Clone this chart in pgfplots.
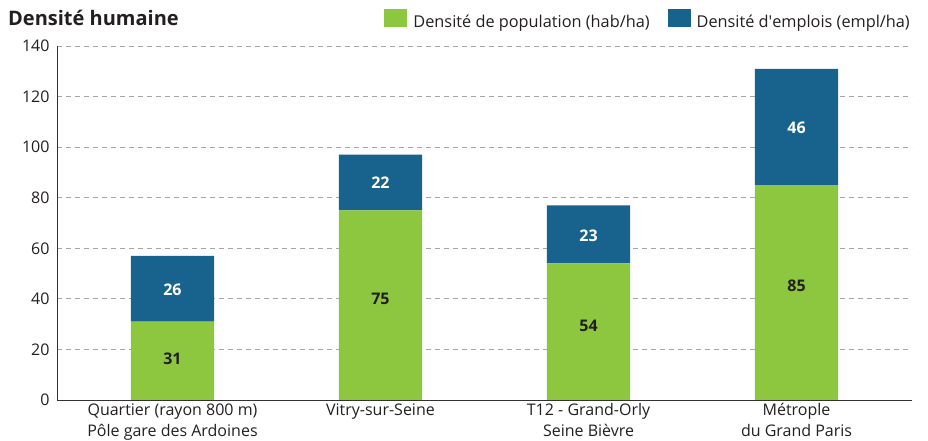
\documentclass[border=0pt]{standalone}
\usepackage{pgfplots}
\pgfplotsset{compat=1.18}
\usepackage{fontspec}
\setmainfont{Open Sans}
\definecolor{cgreen}{RGB}{141,198,63}
\definecolor{cblue}{RGB}{24,99,142}
\definecolor{gridc}{RGB}{165,165,165}
\definecolor{axc}{RGB}{50,50,50}
\definecolor{txt}{RGB}{35,31,32}
\pgfplotsset{common/.style={
  at={(57pt,41pt)}, anchor=south west,
  scale only axis, width=855pt, height=354pt,
  xmin=-0.555, xmax=3.555, ymin=0, ymax=140,
  /pgf/number format/assume math mode=true,
  clip=false}}
\begin{document}
\begin{tikzpicture}
\useasboundingbox (0,0) rectangle (928pt,441pt);
\node[anchor=west, font=\fontsize{20}{24}\selectfont\bfseries, text=txt, inner sep=0pt] at (8pt,423pt) {Densité humaine};
\begin{axis}[
  common,
  ybar stacked, bar width=0.4,
  axis x line*=bottom, axis y line*=left,
  axis line style={-, axc, line width=0.9pt},
  major tick length=0pt,
  ytick={0,20,...,140},
  ymajorgrids,
  grid style={gridc, dash pattern=on 5pt off 4pt, line width=0.8pt},
  xtick={0,1,2,3},
  xticklabels={{Quartier (rayon 800 m)\\Pôle gare des Ardoines},{Vitry-sur-Seine},{T12 - Grand-Orly\\Seine Bièvre},{Métrople\\du Grand Paris}},
  xticklabel style={align=center, font=\fontsize{16}{21}\selectfont, text=txt, yshift=0pt},
  yticklabel style={font=\fontsize{16}{18}\selectfont, text=txt, xshift=-4pt},
  legend columns=2,
  legend style={at={(rel axis cs:1,1)}, anchor=south east, yshift=15pt, draw=none, fill=none,
     font=\fontsize{16.3}{18}\selectfont, text=txt, inner sep=0pt,
     /tikz/every even column/.append style={column sep=16pt},
     /tikz/every odd column/.append style={column sep=4pt}},
  legend image code/.code={\fill[#1,draw=none] (0pt,-5pt) rectangle (23pt,13pt);},
]
\addplot[fill=cgreen, draw=none] coordinates {(0,31) (1,75) (2,54) (3,85)};
\addplot[fill=cblue, draw=none] coordinates {(0,26) (1,22) (2,23) (3,46)};
\legend{Densité de population (hab/ha), Densité d\textquotesingle emplois (empl/ha)}
\end{axis}
\begin{axis}[common, hide axis]
\addplot[only marks, mark=none, point meta=explicit symbolic, nodes near coords,
  every node near coord/.append style={anchor=center, text=txt, font=\fontsize{16}{18}\selectfont\bfseries}]
  coordinates {(0,16.2) [31] (1,39.9) [75] (2,29.2) [54] (3,45.1) [85]};
\addplot[only marks, mark=none, point meta=explicit symbolic, nodes near coords,
  every node near coord/.append style={anchor=center, text=white, font=\fontsize{16}{18}\selectfont\bfseries}]
  coordinates {(0,43.5) [26] (1,85.8) [22] (2,64.8) [23] (3,107.5) [46]};
\end{axis}
\end{tikzpicture}
\end{document}
